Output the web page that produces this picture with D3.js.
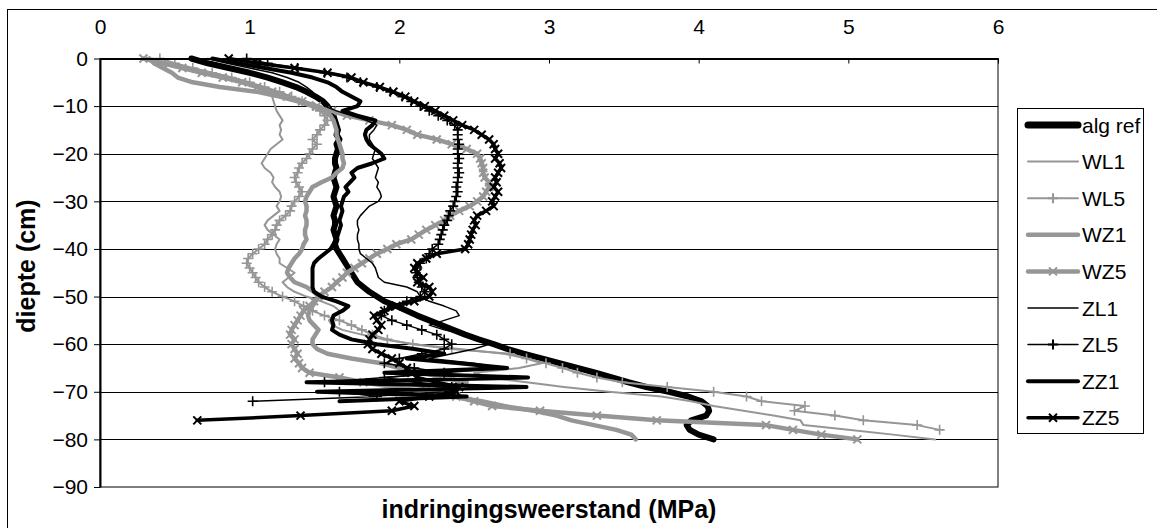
<!DOCTYPE html>
<html>
<head>
<meta charset="utf-8">
<script src="https://cdn.jsdelivr.net/npm/d3@7"></script>
<style>
  body { margin: 0; background: #fff; }
  svg { display: block; }
  text { font-family: Arial, "Liberation Sans", sans-serif; fill: #000; }
</style>
</head>
<body>
<svg id="chart" width="1157" height="528"></svg>
<script>
// Depth of each reading (cm), one per centimetre
const depths = d3.range(0, -81, -1);

// Axis ticks
const xTicks = [0, 1, 2, 3, 4, 5, 6];
const yTicks = [0, -10, -20, -30, -40, -50, -60, -70, -80, -90];

// Penetration resistance (MPa) per depth, one list per profile
const algRef = [0.61,0.72,0.86,1.00,1.12,1.22,1.31,1.38,1.44,1.49,
  1.52,1.54,1.56,1.57,1.58,1.59,1.58,1.60,1.58,1.59,
  1.58,1.57,1.57,1.58,1.57,1.56,1.57,1.58,1.57,1.56,
  1.57,1.58,1.57,1.56,1.57,1.57,1.56,1.57,1.58,1.57,
  1.58,1.60,1.62,1.64,1.66,1.68,1.70,1.72,1.76,1.80,
  1.85,1.90,1.98,2.05,2.12,2.20,2.28,2.36,2.44,2.53,
  2.63,2.72,2.83,2.95,3.07,3.19,3.31,3.42,3.53,3.65,
  3.80,3.93,4.02,4.06,4.07,4.05,3.95,3.92,3.94,4.00,4.10];

const wl1 = [0.35,0.45,0.60,0.75,0.88,0.98,1.06,1.12,1.15,1.16,
  1.17,1.18,1.20,1.22,1.20,1.21,1.20,1.22,1.18,1.14,
  1.12,1.10,1.08,1.10,1.14,1.16,1.15,1.17,1.20,1.21,
  1.20,1.18,1.20,1.16,1.12,1.10,1.12,1.16,1.20,1.18,
  1.17,1.18,1.20,1.20,1.25,1.30,1.26,1.22,1.25,1.30,
  1.38,1.48,1.56,1.60,1.57,1.53,1.55,1.62,1.75,1.90,
  2.10,2.40,2.70,2.85,2.95,2.80,2.50,2.60,2.85,3.10,
  3.40,3.75,3.95,4.10,4.30,4.50,4.68,4.70,5.00,5.30,5.58];

const wl5 = [0.40,0.50,0.62,0.75,0.88,1.00,1.10,1.20,1.28,1.35,
  1.42,1.47,1.50,1.52,1.50,1.47,1.45,1.42,1.45,1.42,
  1.40,1.38,1.35,1.33,1.32,1.30,1.31,1.33,1.35,1.33,
  1.30,1.28,1.27,1.24,1.20,1.18,1.17,1.15,1.12,1.10,
  1.06,1.02,0.99,0.98,1.00,1.02,1.04,1.06,1.10,1.15,
  1.22,1.30,1.36,1.42,1.50,1.60,1.68,1.75,1.82,1.92,
  2.09,2.35,2.74,2.85,2.98,3.09,3.19,3.32,3.49,3.79,
  4.10,4.32,4.42,4.71,4.64,4.91,5.10,5.46,5.61];

const wz1 = [0.33,0.36,0.42,0.48,0.52,0.62,0.80,1.05,1.20,1.32,
  1.42,1.50,1.54,1.56,1.57,1.58,1.58,1.59,1.60,1.61,
  1.62,1.62,1.63,1.62,1.58,1.55,1.48,1.42,1.40,1.38,
  1.37,1.38,1.38,1.37,1.38,1.38,1.37,1.37,1.38,1.36,
  1.35,1.33,1.30,1.28,1.26,1.25,1.27,1.30,1.38,1.43,
  1.46,1.44,1.42,1.40,1.39,1.40,1.43,1.46,1.44,1.42,
  1.42,1.45,1.52,1.68,1.88,2.00,2.15,2.30,2.45,2.30,
  2.20,2.35,2.55,2.70,2.90,3.05,3.15,3.30,3.45,3.55,3.58];

const wz5 = [0.29,0.42,0.55,0.68,0.82,0.95,1.05,1.15,1.25,1.35,
  1.45,1.55,1.65,1.80,1.95,2.05,2.12,2.25,2.35,2.45,
  2.52,2.54,2.55,2.56,2.56,2.57,2.60,2.60,2.58,2.56,
  2.52,2.47,2.40,2.34,2.30,2.24,2.18,2.13,2.08,1.98,
  1.92,1.85,1.80,1.75,1.70,1.65,1.62,1.58,1.55,1.50,
  1.46,1.43,1.40,1.36,1.34,1.32,1.30,1.28,1.27,1.30,
  1.28,1.30,1.32,1.30,1.33,1.35,1.40,1.60,1.76,1.96,
  2.18,2.38,2.50,2.62,2.94,3.32,3.72,4.45,4.63,4.82,5.06];

const zl1 = [0.72,0.85,1.00,1.15,1.25,1.33,1.38,1.42,1.45,1.48,
  1.50,1.58,1.68,1.78,1.85,1.83,1.80,1.80,1.82,1.84,
  1.83,1.82,1.84,1.86,1.85,1.84,1.86,1.85,1.87,1.88,
  1.86,1.80,1.77,1.74,1.72,1.72,1.73,1.72,1.72,1.73,
  1.73,1.74,1.78,1.82,1.84,1.85,1.86,1.90,2.05,2.12,
  2.14,2.20,2.30,2.38,2.40,2.30,2.20,2.30,2.45,2.55,
  2.60,2.50,2.35,2.20,2.50,2.70,2.30,1.90,2.10,2.50,
  2.30,1.80];

const zl5 = [0.98,1.12,1.32,1.50,1.65,1.74,1.85,1.94,2.02,2.08,
  2.14,2.20,2.26,2.32,2.37,2.39,2.39,2.39,2.40,2.39,
  2.39,2.40,2.39,2.39,2.40,2.39,2.39,2.38,2.39,2.38,
  2.37,2.36,2.34,2.33,2.32,2.30,2.29,2.28,2.27,2.26,
  2.22,2.20,2.18,2.14,2.12,2.11,2.12,2.13,2.15,2.17,
  2.14,2.05,1.95,1.90,1.88,1.95,2.05,2.15,2.25,2.30,
  2.35,2.30,2.15,2.00,1.90,2.10,2.30,1.90,1.50,2.35,
  1.60,1.85,1.02];

const zz1 = [0.75,0.92,1.10,1.28,1.42,1.52,1.58,1.62,1.68,1.74,
  1.72,1.62,1.72,1.84,1.82,1.78,1.77,1.78,1.80,1.84,
  1.88,1.90,1.82,1.72,1.68,1.70,1.67,1.64,1.66,1.63,
  1.62,1.61,1.62,1.61,1.60,1.61,1.60,1.59,1.58,1.56,
  1.54,1.50,1.46,1.43,1.42,1.42,1.42,1.42,1.42,1.43,
  1.48,1.58,1.66,1.62,1.56,1.55,1.56,1.55,1.60,1.68,
  1.85,2.10,2.30,2.05,2.40,2.72,1.90,2.86,1.38,2.85,
  1.45,2.45,1.60];

const zz5 = [0.86,1.05,1.30,1.52,1.68,1.76,1.87,1.96,2.04,2.10,
  2.17,2.24,2.30,2.36,2.42,2.50,2.55,2.60,2.63,2.64,
  2.66,2.64,2.67,2.68,2.66,2.64,2.65,2.63,2.66,2.64,
  2.62,2.63,2.58,2.52,2.50,2.51,2.49,2.48,2.47,2.46,
  2.44,2.25,2.18,2.12,2.10,2.12,2.16,2.12,2.20,2.22,
  2.20,2.10,1.98,1.90,1.83,1.85,1.88,1.86,1.82,1.80,
  1.79,1.82,1.88,1.95,2.00,2.05,2.08,2.12,2.25,2.40,
  2.38,2.20,2.00,2.10,1.95,1.34,0.65];

const seriesNames = ["alg ref", "WL1", "WL5", "WZ1", "WZ5", "ZL1", "ZL5", "ZZ1", "ZZ5"];
const seriesValues = [algRef, wl1, wl5, wz1, wz5, zl1, zl5, zz1, zz5];

// Drawing style per profile: stroke colour, line width, marker kind
const GREY = "#969696";
const styles = {
  "alg ref": { color: "#000", width: 6,   marker: null },
  "WL1":     { color: GREY,   width: 2,   marker: null },
  "WL5":     { color: GREY,   width: 2,   marker: "plus" },
  "WZ1":     { color: GREY,   width: 4.5, marker: null },
  "WZ5":     { color: GREY,   width: 4.5, marker: "cross" },
  "ZL1":     { color: "#000", width: 1.5, marker: null },
  "ZL5":     { color: "#000", width: 1.5, marker: "plus" },
  "ZZ1":     { color: "#000", width: 4,   marker: null },
  "ZZ5":     { color: "#000", width: 3.5, marker: "cross" }
};

const FONT = "Arial, 'Liberation Sans', sans-serif";
const svg = d3.select("#chart");
const plot = { left: 100, right: 998, top: 58.5, bottom: 487 };

const x = d3.scaleLinear().domain([0, 6]).range([plot.left, plot.right]);
const y = d3.scaleLinear().domain([0, -90]).range([plot.top, plot.bottom]);

// Outer chart frame
svg.append("rect")
  .attr("x", 7.5).attr("y", 9.5)
  .attr("width", 1170).attr("height", 540)
  .attr("fill", "#fff").attr("stroke", "#000").attr("stroke-width", 1);

// Plot area frame
svg.append("rect")
  .attr("x", plot.left).attr("y", plot.top)
  .attr("width", plot.right - plot.left).attr("height", plot.bottom - plot.top)
  .attr("fill", "#fff").attr("stroke", "#000").attr("stroke-width", 1);

// Horizontal gridlines
svg.append("g")
  .selectAll("line")
  .data(yTicks.filter(t => t !== 0 && t !== -90))
  .join("line")
  .attr("x1", plot.left).attr("x2", plot.right)
  .attr("y1", d => Math.round(y(d)) + 0.5).attr("y2", d => Math.round(y(d)) + 0.5)
  .attr("stroke", "#000").attr("stroke-width", 1);

// Profiles
const line = d3.line()
  .x(d => x(d.v))
  .y(d => y(d.d));

const markerPath = (kind, s) => kind === "plus"
  ? `M${-s},0H${s}M0,${-s}V${s}`
  : `M${-s},${-s}L${s},${s}M${-s},${s}L${s},${-s}`;

const series = seriesNames.map((name, i) => ({
  name,
  style: styles[name],
  points: seriesValues[i].map((v, k) => ({ v, d: depths[k] }))
}));

const gSeries = svg.append("g");
series.forEach(s => {
  const g = gSeries.append("g");
  g.append("path")
    .attr("d", line(s.points))
    .attr("fill", "none")
    .attr("stroke", s.style.color)
    .attr("stroke-width", s.style.width)
    .attr("stroke-linejoin", "round")
    .attr("stroke-linecap", "round");
  if (s.style.marker) {
    const size = s.style.marker === "plus" ? 5 : 4;
    g.selectAll("path.m")
      .data(s.points)
      .join("path")
      .attr("class", "m")
      .attr("transform", d => `translate(${x(d.v)},${y(d.d)})`)
      .attr("d", markerPath(s.style.marker, size))
      .attr("fill", "none")
      .attr("stroke", s.style.color)
      .attr("stroke-width", s.style.marker === "plus" ? 1.6 : 2);
  }
});

// Top value axis
const xAxis = d3.axisTop(x)
  .tickValues(xTicks)
  .tickFormat(d3.format("d"))
  .tickSizeInner(-5).tickSizeOuter(0)
  .tickPadding(25);
const gx = svg.append("g").attr("transform", `translate(0,${plot.top})`).call(xAxis);
gx.attr("font-size", 21).attr("font-family", FONT);
gx.select(".domain").attr("stroke", "#000").attr("stroke-width", 2);
gx.selectAll("text").attr("font-size", 21);

// Left depth axis
const yAxis = d3.axisLeft(y)
  .tickValues(yTicks)
  .tickFormat(d3.format("d"))
  .tickSizeInner(6).tickSizeOuter(0)
  .tickPadding(6);
const gy = svg.append("g").attr("transform", `translate(${plot.left},0)`).call(yAxis);
gy.attr("font-size", 21).attr("font-family", FONT);
gy.select(".domain").attr("stroke", "#000").attr("stroke-width", 2);
gy.selectAll("text").attr("font-size", 21);

// Axis titles
svg.append("text")
  .attr("x", (plot.left + plot.right) / 2).attr("y", 518)
  .attr("text-anchor", "middle")
  .attr("font-size", 25).attr("font-weight", "bold")
  .text("indringingsweerstand (MPa)");

svg.append("text")
  .attr("transform", "translate(35,266) rotate(-90)")
  .attr("text-anchor", "middle")
  .attr("font-size", 25).attr("font-weight", "bold")
  .text("diepte (cm)");

// Legend
const legend = svg.append("g");
legend.append("rect")
  .attr("x", 1017.5).attr("y", 108.5)
  .attr("width", 126).attr("height", 325)
  .attr("fill", "#fff").attr("stroke", "#000").attr("stroke-width", 1);

const rows = legend.selectAll("g.row")
  .data(series)
  .join("g")
  .attr("class", "row")
  .attr("transform", (d, i) => `translate(0,${125 + i * 36.6})`);

rows.append("line")
  .attr("x1", 1028).attr("x2", 1078)
  .attr("stroke", d => d.style.color)
  .attr("stroke-width", d => d.name === "alg ref" ? 7 : d.style.width)
  .attr("stroke-linecap", "round");

rows.filter(d => d.style.marker)
  .append("path")
  .attr("transform", "translate(1053,0)")
  .attr("d", d => markerPath(d.style.marker, d.style.marker === "plus" ? 5 : 4))
  .attr("fill", "none")
  .attr("stroke", d => d.style.color)
  .attr("stroke-width", 2);

rows.append("text")
  .attr("x", 1082).attr("y", 7.5)
  .attr("font-size", 21)
  .text(d => d.name);
</script>
</body>
</html>
